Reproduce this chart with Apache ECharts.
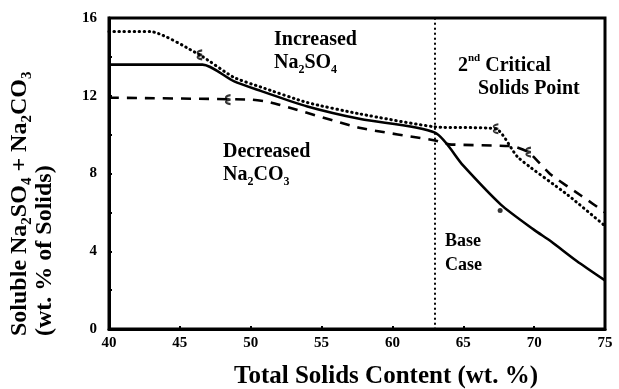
<!DOCTYPE html>
<html>
<head>
<meta charset="utf-8">
<script src="https://cdn.jsdelivr.net/npm/echarts@6/dist/echarts.min.js"></script>
<style>
  html, body { margin: 0; padding: 0; background: #fff; }
  #chart { width: 619px; height: 389px; }
</style>
</head>
<body>
<div id="chart"></div>
<script>
// Total solids content (wt. %) on x, soluble Na2SO4 + Na2CO3 (wt. % of solids) on y
const xTicks = [40, 45, 50, 55, 60, 65, 70, 75];
const yTicks = [0, 4, 8, 12, 16];

// Base case (solid)
const baseX = [40, 46.6, 48.8, 50.7, 54, 57.75, 63, 65, 67.65, 70, 71.2, 73, 75];
const baseY = [13.6, 13.6, 12.75, 12.25, 11.45, 10.8, 10.1, 8.4, 6.4, 5.1, 4.5, 3.5, 2.5];

// Increased Na2SO4 (dotted)
const incX = [40, 42.9, 46.4, 48.8, 50.7, 54, 57.75, 63, 67.3, 68.85, 72.4, 75];
const incY = [15.3, 15.3, 14.1, 12.95, 12.45, 11.65, 11.06, 10.4, 10.3, 8.84, 6.88, 5.3];

// Decreased Na2CO3 (dashed)
const decX = [40, 50, 51.4, 57.75, 63, 64, 68.5, 69.6, 71.2, 73.3, 75];
const decY = [11.9, 11.8, 11.66, 10.34, 9.7, 9.5, 9.4, 9.1, 7.93, 6.87, 6.0];

// Critical solids point
const criticalX = 63;

// Small point markers drawn on the curves
const squiggleX = [46.4, 67.3, 48.4, 69.6];
const squiggleY = [14.1, 10.3, 11.8, 9.1];
const dotX = [67.6];
const dotY = [6.1];

const zip = (xs, ys) => xs.map((x, i) => [x, ys[i]]);

const FONT = 'Liberation Serif';
const ink = '#000';

const subRich = (size) => ({
  n: { fontFamily: FONT, fontWeight: 'bold', fontSize: size, lineHeight: size + 6, color: ink },
  s: { fontFamily: FONT, fontWeight: 'bold', fontSize: Math.round(size * 0.62), lineHeight: Math.round(size * 0.7), verticalAlign: 'bottom', color: ink },
  p: { fontFamily: FONT, fontWeight: 'bold', fontSize: Math.round(size * 0.55), lineHeight: Math.round(size * 0.7), verticalAlign: 'top', color: ink }
});

const chart = echarts.init(document.getElementById('chart'), null, { renderer: 'canvas' });

const textEl = (x, y, text, size, opts) => Object.assign({
  type: 'text', x: x, y: y, silent: true,
  style: Object.assign({
    text: text, rich: subRich(size), fill: ink,
    font: 'bold ' + size + 'px "' + FONT + '"',
    align: 'left', verticalAlign: 'middle'
  }, (opts && opts.style) || {})
}, (opts && opts.el) || {});

chart.setOption({
  animation: false,
  backgroundColor: '#fff',
  grid: { left: 109, right: 14, top: 18, bottom: 60, show: true, borderColor: ink, borderWidth: 3, containLabel: false },
  xAxis: {
    type: 'value', min: 40, max: 75, interval: 5,
    axisLine: { show: true, lineStyle: { color: ink, width: 3 } },
    axisTick: { show: true, inside: true, length: 3, lineStyle: { color: ink, width: 2 } },
    splitLine: { show: false },
    axisLabel: {
      margin: 7, color: ink, fontFamily: FONT, fontWeight: 'bold', fontSize: 15,
      formatter: v => xTicks.includes(v) ? String(v) : ''
    }
  },
  yAxis: {
    type: 'value', min: 0, max: 16, interval: 4,
    axisLine: { show: true, lineStyle: { color: ink, width: 3 } },
    axisTick: { show: true, inside: true, length: 3, lineStyle: { color: ink, width: 2 } },
    minorTick: { show: true, splitNumber: 2, length: 3, lineStyle: { color: ink, width: 2 } },
    splitLine: { show: false },
    axisLabel: {
      margin: 12, color: ink, fontFamily: FONT, fontWeight: 'bold', fontSize: 15,
      formatter: v => yTicks.includes(v) ? String(v) : ''
    }
  },
  series: [
    {
      name: 'Base Case', type: 'line', data: zip(baseX, baseY), showSymbol: false,
      smooth: 0.25, lineStyle: { color: ink, width: 2.6, type: 'solid' },
      markLine: {
        silent: true, symbol: 'none', label: { show: false },
        lineStyle: { color: ink, width: 2, type: [0.5, 4.5], cap: 'round' },
        data: [{ xAxis: criticalX }]
      }
    },
    {
      name: 'Increased Na2SO4', type: 'line', data: zip(incX, incY), showSymbol: false,
      smooth: 0.2, lineStyle: { color: ink, width: 3, type: [0.5, 4.5], cap: 'round' }
    },
    {
      name: 'Decreased Na2CO3', type: 'line', data: zip(decX, decY), showSymbol: false,
      smooth: 0.15, lineStyle: { color: ink, width: 2.6, type: [10, 8] }
    },
    {
      name: 'marks', type: 'scatter', data: zip(squiggleX, squiggleY),
      symbol: 'path://M3,0 C0,1 0,3 3,4 C0,5 0,7 3,8', symbolSize: [5, 9],
      itemStyle: { color: 'rgba(0,0,0,0)', borderColor: ink, borderWidth: 1.6 }
    },
    {
      name: 'dot', type: 'scatter', data: zip(dotX, dotY),
      symbol: 'circle', symbolSize: 5, itemStyle: { color: ink }
    }
  ],
  graphic: [
    textEl(274, 40, '{n|Increased}', 20),
    textEl(274, 63, '{n|Na}{s|2}{n|SO}{s|4}', 20),
    textEl(458, 66, '{n|2}{p|nd}{n| Critical}', 20),
    textEl(478, 89, '{n|Solids Point}', 20),
    textEl(223, 152, '{n|Decreased}', 20),
    textEl(223, 175, '{n|Na}{s|2}{n|CO}{s|3}', 20),
    textEl(445, 241, '{n|Base}', 18),
    textEl(445, 265, '{n|Case}', 18),
    // axis titles
    textEl(386, 377, '{n|Total Solids Content (wt. %)}', 25, { style: { align: 'center' } }),
    textEl(20, 336, '{n|Soluble Na}{s|2}{n|SO}{s|4}{n| + Na}{s|2}{n|CO}{s|3}', 24, { el: { rotation: Math.PI / 2 } }),
    textEl(45, 336, '{n|(wt. % of Solids)}', 24, { el: { rotation: Math.PI / 2 } })
  ]
});
</script>
</body>
</html>
